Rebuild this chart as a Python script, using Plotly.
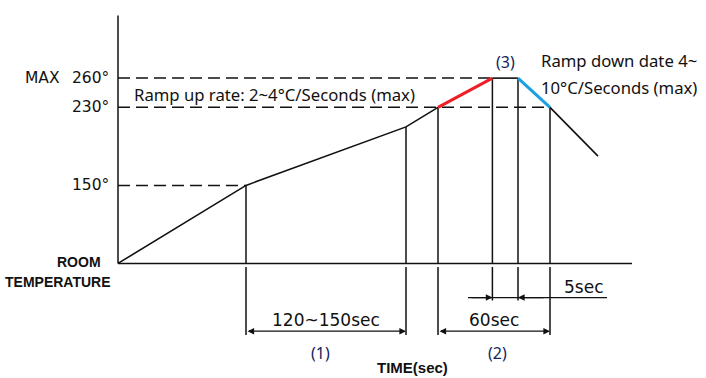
import plotly.graph_objects as go

# ---- data (schematic reflow profile) ----
time_pts = [0, 80, 180, 200, 234, 250, 270, 300]          # schematic time units
temp_pts = [70, 150, 210, 230, 260, 260, 230, 180]         # °C (room temp drawn at 70)
room_temp = 70
tick_vals = [150, 230, 260]
tick_text = ["150°", "230°", "260°"]
dim_labels = ["120~150sec", "60sec", "5sec"]
zone_labels = ["(1)", "(2)", "(3)"]

XR = [-73.75, 367.5]
YR = [-47.5, 340.1]
PX_X = 706 / (XR[1] - XR[0])
PX_Y = 378 / (YR[1] - YR[0])

BLACK = "#111111"
RED = "#ee2026"
BLUE = "#1ba1e2"
NAVY = "#13245e"

fig = go.Figure()

def seg(xs, ys, color=BLACK, width=1.5, dash=None):
    fig.add_trace(go.Scatter(x=xs, y=ys, mode="lines", hoverinfo="skip",
                             line=dict(color=color, width=width, dash=dash),
                             showlegend=False))

# axes
x_end = (632 - 118) / PX_X
y_top = room_temp + (264 - 16) / PX_Y
seg([0, 0], [room_temp, y_top])
seg([0, x_end], [room_temp, room_temp])

# dashed guide lines
dash = "12px,6px"
seg([0, time_pts[4]], [260, 260], dash=dash)
seg([0, time_pts[6]], [230, 230], dash=dash)
seg([0, time_pts[1]], [150, 150], dash=dash)

# vertical extension lines
gap = 3.5 / PX_Y
dim_main = 0.5      # level of lower dimension lines
dim_short = 35      # level of 5sec dimension line
for i, bottom in [(1, dim_main - 4), (2, dim_main - 4), (3, dim_main - 4),
                  (4, dim_short - 3), (5, dim_short - 3), (6, dim_main - 4)]:
    seg([time_pts[i]] * 2, [temp_pts[i], room_temp])
    seg([time_pts[i]] * 2, [room_temp - gap, bottom])

# profile curve
seg(time_pts[0:4], temp_pts[0:4], width=1.6)
seg(time_pts[3:5], temp_pts[3:5], color=RED, width=3)
seg(time_pts[4:6], temp_pts[4:6], width=1.6)
seg(time_pts[5:7], temp_pts[5:7], color=BLUE, width=3)
seg(time_pts[6:8], temp_pts[6:8], width=1.6)

ann = []
def arrow(x_head, x_tail, y, side="end"):
    ann.append(dict(x=x_head, y=y, ax=x_tail, ay=y, xref="x", yref="y",
                    axref="x", ayref="y", text="", showarrow=True,
                    arrowhead=2, arrowsize=1.1, arrowwidth=1.2,
                    arrowcolor=BLACK, arrowside=side, standoff=0, startstandoff=0))

# dimension lines
arrow(time_pts[2], time_pts[1], dim_main, side="end+start")
arrow(time_pts[6], time_pts[3], dim_main, side="end+start")
seg([(468 - 118) / PX_X, (607 - 118) / PX_X], [dim_short, dim_short], width=1.2)
arrow(time_pts[4], (470 - 118) / PX_X, dim_short)
arrow(time_pts[5], (545 - 118) / PX_X, dim_short)

DIM_FONT = dict(family="DejaVu Sans", size=17, color=BLACK)
def text(x, y, s, font, xanchor="center", yanchor="middle", xshift=0, yshift=0):
    ann.append(dict(x=x, y=y, xref="x", yref="y", text=s, showarrow=False,
                    font=font, xanchor=xanchor, yanchor=yanchor,
                    xshift=xshift, yshift=yshift))

text((time_pts[1] + time_pts[2]) / 2, dim_main, dim_labels[0], DIM_FONT, yanchor="bottom", yshift=-1)
text((time_pts[3] + time_pts[6]) / 2, dim_main, dim_labels[1], DIM_FONT, yanchor="bottom", yshift=-1)
text((583 - 118) / PX_X, dim_short, dim_labels[2], DIM_FONT, yanchor="bottom", yshift=-1)

# tick labels
TICK_FONT = dict(family="DejaVu Sans", size=15.5, color=BLACK)
for v, t in zip(tick_vals, tick_text):
    text(0, v, t, TICK_FONT, xanchor="right", xshift=-7)
text(0, 260, "MAX", TICK_FONT, xanchor="right", xshift=-56)
BOLD = dict(family="Liberation Sans", size=14, color=BLACK)
text(0, room_temp, "<b>ROOM</b>", BOLD, xanchor="right", xshift=-15, yshift=1)
text(0, room_temp, "<b>TEMPERATURE</b>", BOLD, xanchor="right", xshift=-5, yshift=-19)

# zone labels
ZFONT = dict(family="Noto Sans", size=16, color=NAVY)
text((time_pts[1] + time_pts[2]) / 2, dim_main, zone_labels[0], ZFONT, xshift=-6, yshift=-22)
text((time_pts[3] + time_pts[6]) / 2, dim_main, zone_labels[1], ZFONT, xshift=3, yshift=-22)
text((time_pts[4] + time_pts[5]) / 2, 260, zone_labels[2], ZFONT, yanchor="bottom", yshift=3)
text((time_pts[2] + time_pts[3]) / 2, dim_main, "<b>TIME(sec)</b>", dict(family="Liberation Sans", size=15, color=BLACK), xshift=-10, yshift=-36)

# notes
NFONT = dict(family="Noto Sans", size=16.7, color=BLACK)
text(0, 230, "Ramp up rate: 2~4°C/Seconds (max)", NFONT, xanchor="left", yanchor="bottom", xshift=14, yshift=-1)
text(time_pts[5], 260, "Ramp down date 4~", NFONT, xanchor="left", xshift=21, yshift=18)
text(time_pts[5], 260, "10°C/Seconds (max)", NFONT, xanchor="left", xshift=21, yshift=-9)

fig.update_layout(
    width=706, height=378, margin=dict(l=0, r=0, t=0, b=0),
    paper_bgcolor="white", plot_bgcolor="white",
    xaxis=dict(range=XR, visible=False, fixedrange=True),
    yaxis=dict(range=YR, visible=False, fixedrange=True),
    annotations=ann, showlegend=False,
)
fig.write_html("out.html", config={"displayModeBar": False},
               post_script="document.body.style.margin='0';document.body.style.padding='0';document.body.style.overflow='hidden';")
